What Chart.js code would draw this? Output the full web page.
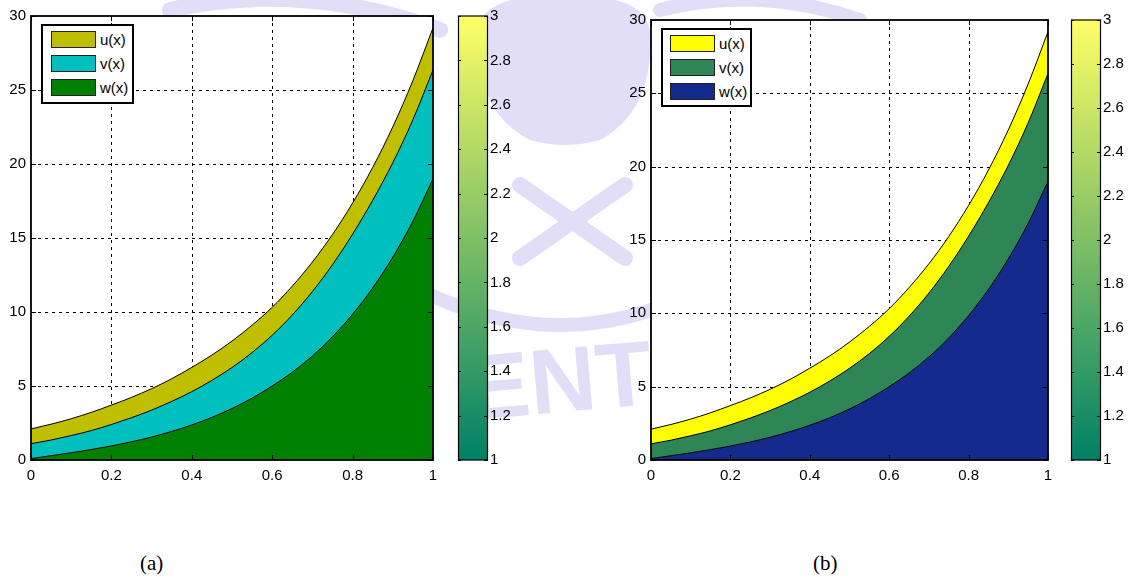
<!DOCTYPE html>
<html><head><meta charset="utf-8">
<script src="https://cdn.jsdelivr.net/npm/chart.js@4/dist/chart.umd.min.js"></script>
<style>
body{margin:0;width:1128px;height:577px;background:#fff;position:relative;overflow:hidden;font-family:"Liberation Sans",Arial,sans-serif;}
canvas{position:absolute;top:0;}
#wm{position:absolute;left:0;top:0;}
.legend{position:absolute;background:#fff;border:2px solid #000;box-sizing:border-box;}
.legend .it{position:absolute;height:17px;width:45px;border:1px solid #222;box-sizing:border-box;}
.legend .lb{position:absolute;font-size:15px;color:#000;line-height:17px;}
.cap{position:absolute;font-family:"Liberation Serif","Times New Roman",serif;font-size:21px;color:#000;top:551px;}
</style></head>
<body>
<svg id="wm" width="1128" height="577">
 <g fill="none" stroke="#e3def8" stroke-linecap="round">
  <path d="M420 290 Q560 360 700 290" stroke-width="14"/>
  <path d="M520 185 L625 258 M625 185 L520 258" stroke-width="16"/>
  <path d="M170 10 Q300 -20 440 30" stroke-width="16"/>
  <path d="M660 10 Q760 -15 860 20" stroke-width="14"/>
 </g>
 <path d="M480 20 Q500 -10 565 0 Q640 -10 650 30 Q655 110 600 140 Q565 150 530 140 Q470 110 480 20 Z" fill="#e3def8"/>
 <text x="468" y="412" font-family="Liberation Sans" font-weight="bold" font-size="92" fill="#e3def8" transform="rotate(-5 560 380)">ENT</text>
</svg>
<canvas id="ca" width="450" height="500" style="left:0px"></canvas>
<canvas id="cba" width="80" height="500" style="left:450px"></canvas>
<canvas id="cb" width="450" height="500" style="left:620px"></canvas>
<canvas id="cbb" width="65" height="500" style="left:1063px"></canvas>
<div class="legend" style="left:41px;top:24px;width:93px;height:80px">
 <div class="it" style="left:8px;top:5px;background:#bfbf00"></div><div class="lb" style="left:57px;top:5px">u(x)</div>
 <div class="it" style="left:8px;top:29px;background:#00bfbf"></div><div class="lb" style="left:57px;top:29px">v(x)</div>
 <div class="it" style="left:8px;top:53px;background:#008000"></div><div class="lb" style="left:57px;top:53px">w(x)</div>
</div>
<div class="legend" style="left:661px;top:28px;width:91px;height:79px">
 <div class="it" style="left:7px;top:5px;background:#ffff00"></div><div class="lb" style="left:56px;top:5px">u(x)</div>
 <div class="it" style="left:7px;top:29px;background:#2e8657"></div><div class="lb" style="left:56px;top:29px">v(x)</div>
 <div class="it" style="left:7px;top:53px;background:#142a8c"></div><div class="lb" style="left:56px;top:53px">w(x)</div>
</div>
<div class="cap" style="left:140px">(a)</div>
<div class="cap" style="left:813px">(b)</div>
<script>
const xs    = [0,0.05,0.1,0.15,0.2,0.25,0.3,0.35,0.4,0.45,0.5,0.55,0.6,0.65,0.7,0.75,0.8,0.85,0.9,0.95,1];
const wVals = [0.10,0.29,0.49,0.71,0.95,1.23,1.55,1.93,2.37,2.88,3.48,4.18,5.00,5.93,7.03,8.33,9.85,11.63,13.71,16.13,19.00];
const vVals = [1.00,1.06,1.16,1.28,1.45,1.63,1.82,2.03,2.25,2.50,2.77,3.08,3.43,3.87,4.35,4.87,5.41,5.92,6.38,6.86,7.35];
const uVals = [1.00,1.07,1.14,1.23,1.31,1.37,1.45,1.53,1.64,1.71,1.79,1.85,1.89,1.95,2.00,2.04,2.10,2.22,2.42,2.65,2.85];
const seriesNames = ['u(x)','v(x)','w(x)'];
const xTicks = [0,0.2,0.4,0.6,0.8,1];
const yTicks = [0,5,10,15,20,25,30];
const cbTicks = [1,1.2,1.4,1.6,1.8,2,2.2,2.4,2.6,2.8,3];
const paletteA = {u:'#bfbf00', v:'#00bfbf', w:'#008000'};
const paletteB = {u:'#ffff00', v:'#2e8657', w:'#142a8c'};

const font = {family:'"Liberation Sans", Arial, sans-serif', size:15};
Chart.defaults.color = '#000';

function cum(a,b){return a.map((v,i)=>v+(b?b[i]:0));}
const wTop = wVals.slice();
const vTop = cum(vVals, wTop);
const uTop = cum(uVals, vTop);
const pts = arr => xs.map((x,i)=>({x:x,y:arr[i]}));
const fmt = v => String(+(+v).toFixed(1));

const framePlugin = {
  id:'frame',
  beforeDraw(chart){
    const {ctx, chartArea:a} = chart;
    ctx.save(); ctx.fillStyle='#fff'; ctx.fillRect(a.left,a.top,a.right-a.left,a.bottom-a.top); ctx.restore();
  },
  beforeDatasetsDraw(chart){
    const {ctx, chartArea:a, scales} = chart;
    ctx.save(); ctx.strokeStyle='#000'; ctx.lineWidth=1; ctx.setLineDash([3,4]);
    xTicks.slice(1,-1).forEach(v=>{const p=Math.round(scales.x.getPixelForValue(v))+0.5;ctx.beginPath();ctx.moveTo(p,a.top);ctx.lineTo(p,a.bottom);ctx.stroke();});
    yTicks.slice(1,-1).forEach(v=>{const p=Math.round(scales.y.getPixelForValue(v))+0.5;ctx.beginPath();ctx.moveTo(a.left,p);ctx.lineTo(a.right,p);ctx.stroke();});
    ctx.restore();
  },
  afterDatasetsDraw(chart){
    const {ctx, chartArea:a, scales} = chart;
    ctx.save(); ctx.strokeStyle='#000'; ctx.lineWidth=1;
    xTicks.forEach(v=>{const p=Math.round(scales.x.getPixelForValue(v))+0.5;ctx.beginPath();ctx.moveTo(p,a.bottom);ctx.lineTo(p,a.bottom-5);ctx.moveTo(p,a.top);ctx.lineTo(p,a.top+5);ctx.stroke();});
    yTicks.forEach(v=>{const p=Math.round(scales.y.getPixelForValue(v))+0.5;ctx.beginPath();ctx.moveTo(a.left,p);ctx.lineTo(a.left+5,p);ctx.moveTo(a.right,p);ctx.lineTo(a.right-5,p);ctx.stroke();});
    ctx.lineWidth=1.8; ctx.strokeRect(a.left,a.top,a.right-a.left,a.bottom-a.top);
    ctx.restore();
  }
};

function mainChart(id, pal, padRight, padTop){
  const ds = (label, data, color, fill) => ({label, data:pts(data), backgroundColor:color, borderColor:'#000', borderWidth:1,
    fill, pointRadius:0, cubicInterpolationMode:'monotone'});
  return new Chart(document.getElementById(id), {
    type:'line',
    data:{datasets:[
      ds(seriesNames[2], wTop, pal.w, 'origin'),
      ds(seriesNames[1], vTop, pal.v, '-1'),
      ds(seriesNames[0], uTop, pal.u, '-1')
    ]},
    options:{
      responsive:false, animation:false, devicePixelRatio:1,
      layout:{padding:{left:0,right:padRight,top:padTop,bottom:0}},
      plugins:{legend:{display:false}, tooltip:{enabled:false}},
      scales:{
        x:{type:'linear', min:0, max:1, grid:{display:false, drawTicks:false}, border:{display:false},
           afterBuildTicks:s=>{s.ticks=xTicks.map(v=>({value:v}));},
           afterFit:s=>{s.height=40;},
           ticks:{font, padding:7, maxRotation:0, autoSkip:false, callback:v=>fmt(v)}},
        y:{type:'linear', min:0, max:30, grid:{display:false, drawTicks:false}, border:{display:false},
           afterBuildTicks:s=>{s.ticks=yTicks.map(v=>({value:v}));},
           afterFit:s=>{s.width=31;},
           ticks:{font, padding:5, autoSkip:false, callback:v=>fmt(v)}}
      }
    },
    plugins:[framePlugin]
  });
}

const cbPlugin = {
  id:'cbframe',
  afterDatasetsDraw(chart){
    const {ctx, chartArea:a, scales} = chart;
    ctx.save(); ctx.strokeStyle='#000'; ctx.lineWidth=1;
    cbTicks.forEach(v=>{const p=Math.round(scales.y.getPixelForValue(v))+0.5;ctx.beginPath();ctx.moveTo(a.left,p);ctx.lineTo(a.left+3,p);ctx.moveTo(a.right,p);ctx.lineTo(a.right-4,p);ctx.stroke();});
    ctx.lineWidth=1.2; ctx.strokeRect(a.left+0.5,a.top,a.right-a.left-1,a.bottom-a.top);
    ctx.restore();
  }
};
function colorbar(id, yWidth, padTop){
  return new Chart(document.getElementById(id), {
    type:'bar',
    data:{labels:['c'], datasets:[{data:[[cbTicks[0], cbTicks[cbTicks.length-1]]], barPercentage:1, categoryPercentage:1,
      backgroundColor:(c)=>{const ch=c.chart, a=ch.chartArea; if(!a) return '#888';
        const g=ch.ctx.createLinearGradient(0,a.bottom,0,a.top); g.addColorStop(0,'rgb(0,128,102)'); g.addColorStop(1,'rgb(255,255,102)'); return g;}}]},
    options:{
      responsive:false, animation:false, devicePixelRatio:1,
      layout:{padding:{left:8,right:0,top:padTop,bottom:40}},
      plugins:{legend:{display:false}, tooltip:{enabled:false}},
      scales:{
        x:{display:false},
        y:{position:'right', min:1, max:3, grid:{display:false, drawTicks:false}, border:{display:false},
           afterBuildTicks:s=>{s.ticks=cbTicks.map(v=>({value:v}));},
           afterFit:s=>{s.width=yWidth;},
           ticks:{font, padding:2, autoSkip:false, callback:v=>fmt(v)}}
      }
    },
    plugins:[cbPlugin]
  });
}

mainChart('ca', paletteA, 17, 16);
mainChart('cb', paletteB, 22, 20);
colorbar('cba', 42, 16);
colorbar('cbb', 27, 20);
</script>
</body></html>
